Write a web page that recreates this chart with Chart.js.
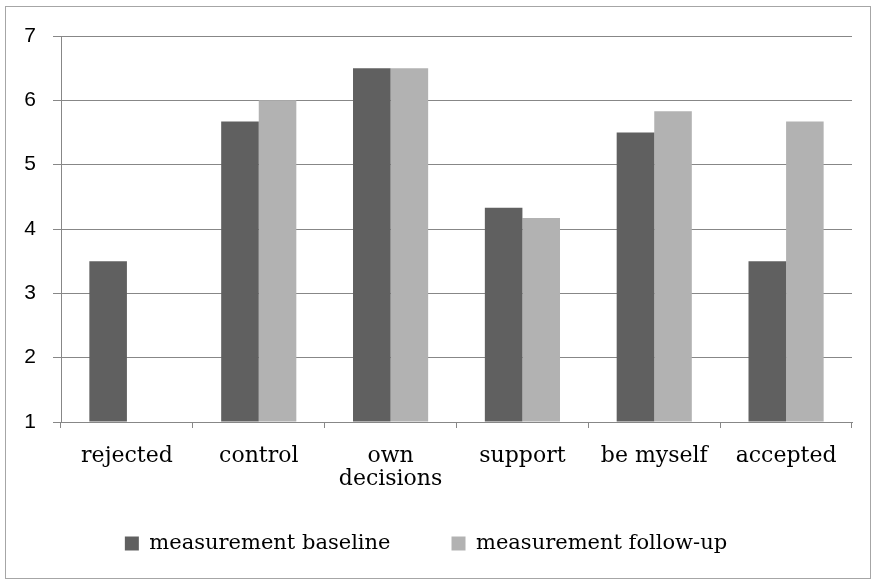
<!DOCTYPE html>
<html>
<head>
<meta charset="utf-8">
<script src="https://cdn.jsdelivr.net/npm/chart.js@4.4.1/dist/chart.umd.min.js"></script>
<style>
  html, body { margin: 0; padding: 0; background: #fff; }
  #frame {
    position: absolute; left: 5px; top: 6px; width: 866px; height: 573px;
    border: 1px solid #a6a6a6; box-sizing: border-box;
  }
  #wrap { position: absolute; left: 0; top: 0; width: 874px; height: 582px; }
</style>
</head>
<body>
<div id="frame"></div>
<div id="wrap"><canvas id="chart" width="874" height="582"></canvas></div>
<script>
const categories = ['rejected', 'control', ['own', 'decisions'], 'support', 'be myself', 'accepted'];
const baseline = [3.5, 5.67, 6.5, 4.33, 5.5, 3.5];
const followUp = [null, 6.0, 6.5, 4.17, 5.83, 5.67];
const yTicks = [1, 2, 3, 4, 5, 6, 7];

const gridGray = '#878787';

new Chart(document.getElementById('chart'), {
    type: 'bar',
    data: {
        labels: categories,
        datasets: [{
            label: 'measurement baseline',
            data: baseline,
            backgroundColor: '#606060',
            borderWidth: 0
        }, {
            label: 'measurement follow-up',
            data: followUp,
            backgroundColor: '#b2b2b2',
            borderWidth: 0
        }]
    },
    options: {
        responsive: false,
        animation: false,
        datasets: {
            bar: {
                categoryPercentage: 0.57,
                barPercentage: 1.0,
                base: 1
            }
        },
        layout: {
            padding: { top: 36, left: 0, right: 22, bottom: 18 }
        },
        scales: {
            x: {
                afterFit: (scale) => {
                    scale.height = 50;
                    // labels may run below the shortened box, so don't clip them
                    scale._computeLabelArea = () => null;
                },
                grid: {
                    display: true,
                    drawOnChartArea: false,
                    drawTicks: true,
                    tickLength: 6,
                    offset: true,
                    color: gridGray
                },
                border: { color: gridGray, width: 1 },
                ticks: {
                    color: '#000',
                    padding: 17,
                    maxRotation: 0,
                    autoSkip: false,
                    font: { family: 'DejaVu Serif', size: 22, lineHeight: 1.05 }
                }
            },
            y: {
                min: 1,
                max: 7,
                afterFit: (scale) => { scale.width = 61; },
                afterBuildTicks: (scale) => {
                    scale.ticks = yTicks.map(v => ({ value: v }));
                },
                grid: {
                    color: gridGray,
                    tickLength: 8,
                    lineWidth: 1
                },
                border: { color: gridGray, width: 1 },
                ticks: {
                    color: '#000',
                    padding: 17,
                    font: { family: 'Liberation Sans', size: 21 }
                }
            }
        },
        plugins: {
            legend: {
                position: 'bottom',
                labels: {
                    color: '#000',
                    boxWidth: 14,
                    boxHeight: 14,
                    padding: 61,
                    font: { family: 'DejaVu Serif', size: 21 }
                }
            },
            tooltip: { enabled: false }
        }
    }
});
</script>
</body>
</html>
